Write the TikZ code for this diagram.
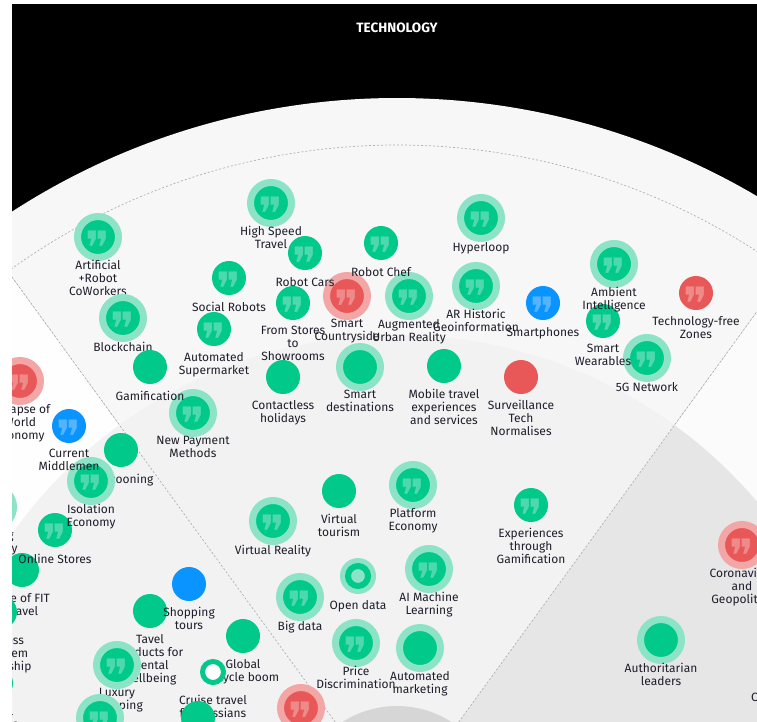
\documentclass[tikz,border=0pt]{standalone}
\usepackage{fontspec}
\setmainfont{Fira Sans}
\newfontfamily\iconfont{DejaVu Sans}
\usetikzlibrary{positioning}
\definecolor{cffffff}{RGB}{255,255,255}
\definecolor{c000000}{RGB}{0,0,0}
\definecolor{cf7f7f7}{RGB}{247,247,247}
\definecolor{cf2f2f2}{RGB}{242,242,242}
\definecolor{cfdfdfd}{RGB}{254,254,254}
\definecolor{cfbfbfb}{RGB}{251,251,251}
\definecolor{ce6e6e6}{RGB}{230,230,230}
\definecolor{cd8d8d8}{RGB}{214,214,214}
\definecolor{cb0b0b0}{RGB}{176,176,176}
\definecolor{c00c98a}{RGB}{0,201,138}
\definecolor{c8ce3c6}{RGB}{140,227,198}
\definecolor{ce95858}{RGB}{233,88,88}
\definecolor{cf2a6a6}{RGB}{242,166,166}
\definecolor{c0a94ff}{RGB}{10,148,255}
\definecolor{c1e1e2c}{RGB}{30,30,44}
\newcommand{\qicon}{\makebox[0pt]{\raisebox{-0.6em}[0pt][0pt]{\char"275E}}}

\begin{document}
\begin{tikzpicture}[y=1pt, x=1pt, yscale=-1, inner sep=0pt, outer sep=0pt,
  dotG/.style={circle, fill=c00c98a, minimum size=34pt, text=white, text opacity=0.3,
    font=\iconfont\fontsize{46}{46}\selectfont},
  haloG/.style={dotG, draw=c8ce3c6, line width=7pt, minimum size=41pt},
  dotR/.style={dotG, fill=ce95858},
  haloR/.style={dotR, draw=cf2a6a6, line width=7pt, minimum size=41pt},
  dotB/.style={dotG, fill=c0a94ff},
  ringG/.style={circle, draw=c00c98a, fill=cffffff, line width=5pt, minimum size=21pt},
  lbl/.style={anchor=north, align=center, text=c1e1e2c, font=\fontsize{12}{13}\selectfont,
    execute at begin node={\rule{0pt}{10pt}}},
  rim/.style={draw=cb0b0b0, line width=0.7pt, dash pattern=on 2pt off 2pt}]
  \useasboundingbox (0,0) rectangle (757,721);
  \clip (12,4) rectangle (757,721);
  \path[fill=c000000] (12,4) rectangle (757,721);
  \begin{scope}[shift={(397,807)}]
    \path[fill=cf7f7f7] (0,0) -- (-126:709) arc[start angle=-126, end angle=-54, radius=709] -- cycle;
    \path[fill=cfdfdfd] (0,0) -- (-198:709) arc[start angle=-198, end angle=-126, radius=709] -- cycle;
    \path[fill=cfbfbfb] (0,0) -- (-54:709) arc[start angle=-54, end angle=18, radius=709] -- cycle;
    \path[fill=cf2f2f2] (0,0) -- (-198:472) arc[start angle=-198, end angle=-54, radius=472] -- cycle;
    \path[fill=ce6e6e6] (0,0) -- (-54:472) arc[start angle=-54, end angle=18, radius=472] -- cycle;
    \path[fill=cd8d8d8] (0,0) circle (101);
    \path[rim] (-126:101) -- (-126:662);
    \path[rim] (-54:101) -- (-54:662);
    \path[rim] (-126:662) arc[start angle=-126, end angle=-54, radius=662];
  \end{scope}
  \path (397,28) node[text=cffffff, font=\bfseries\fontsize{13.5}{15}\selectfont] (title) {TECHNOLOGY};

  \path (98,237) node[haloG] (aiCoworkers) {\qicon};
  \path (98,260) node[lbl] (aiCoworkersText) {Artificial\\+Robot\\CoWorkers};
  \path (271,203) node[haloG] (highSpeed) {\qicon};
  \path (271,226) node[lbl] (highSpeedText) {High Speed\\Travel};
  \path (481,218) node[haloG] (hyperloop) {\qicon};
  \path (481,241) node[lbl] (hyperloopText) {Hyperloop};
  \path (347,296) node[haloR] (smartCountry) {\qicon};
  \path (347,319) node[lbl] (smartCountryText) {Smart\\Countryside};
  \path (409,296) node[haloG] (augmented) {\qicon};
  \path (409,319) node[lbl] (augmentedText) {Augmented\\Urban Reality};
  \path (381,243) node[dotG] (robotChef) {\qicon};
  \path (381,266) node[lbl] (robotChefText) {Robot Chef};
  \path (305,253) node[dotG] (robotCars) {\qicon};
  \path (305,276) node[lbl] (robotCarsText) {Robot Cars};
  \path (229,278) node[dotG] (socialRobots) {\qicon};
  \path (229,301) node[lbl] (socialRobotsText) {Social Robots};
  \path (293,303) node[dotG] (fromStores) {\qicon};
  \path (293,326) node[lbl] (fromStoresText) {From Stores\\to\\Showrooms};
  \path (476,286) node[haloG] (arHistoric) {\qicon};
  \path (476,309) node[lbl] (arHistoricText) {AR Historic\\Geoinformation};
  \path (543,303) node[dotB] (smartphones) {\qicon};
  \path (543,326) node[lbl] (smartphonesText) {Smartphones};
  \path (696,293) node[dotR] (techFree) {\qicon};
  \path (696,316) node[lbl] (techFreeText) {Technology-free\\Zones};
  \path (647,358) node[haloG] (fiveG) {\qicon};
  \path (647,381) node[lbl] (fiveGText) {5G Network};
  \path (603,321) node[dotG] (wearables) {\qicon};
  \path (603,344) node[lbl] (wearablesText) {Smart\\Wearables};
  \path (614,264) node[haloG] (ambient) {\qicon};
  \path (614,287) node[lbl] (ambientText) {Ambient\\Intelligence};
  \path (123,318) node[haloG] (blockchain) {\qicon};
  \path (123,341) node[lbl] (blockchainText) {Blockchain};
  \path (214,329) node[dotG] (autoSuper) {\qicon};
  \path (214,352) node[lbl] (autoSuperText) {Automated\\Supermarket};
  \path (193,413) node[haloG] (newPayment) {\qicon};
  \path (193,436) node[lbl] (newPaymentText) {New Payment\\Methods};
  \path (150,367) node[dotG] (gamification) {};
  \path (150,390) node[lbl] (gamificationText) {Gamification};
  \path (283,377) node[dotG] (contactless) {};
  \path (283,400) node[lbl] (contactlessText) {Contactless\\holidays};
  \path (360,367) node[haloG] (smartDest) {};
  \path (360,390) node[lbl] (smartDestText) {Smart\\destinations};
  \path (444,366) node[dotG] (mobileTravel) {};
  \path (444,389) node[lbl] (mobileTravelText) {Mobile travel\\experiences\\and services};
  \path (521,377) node[dotR] (surveillance) {};
  \path (521,400) node[lbl] (surveillanceText) {Surveillance\\Tech\\Normalises};
  \path (20,381) node[haloR] (collapse) {\qicon};
  \path (20,404) node[lbl] (collapseText) {Collapse of\\World\\Economy};
  \path (121,450) node[dotG] (cocooning) {};
  \path (125,473) node[lbl] (cocooningText) {Cocooning};
  \path (-7,507) node[haloG] (sharing) {\qicon};
  \path (-7,530) node[lbl] (sharingText) {Sharing\\Economy};
  \path (22,570) node[dotG] (riseFit) {};
  \path (22,593) node[lbl] (riseFitText) {Rise of FIT\\Travel};
  \path (55,530) node[dotG] (onlineStores) {\qicon};
  \path (55,553) node[lbl] (onlineStoresText) {Online Stores};
  \path (91,481) node[haloG] (isolation) {\qicon};
  \path (91,504) node[lbl] (isolationText) {Isolation\\Economy};
  \path (69,426) node[dotB] (middlemen) {\qicon};
  \path (69,449) node[lbl] (middlemenText) {Current\\Middlemen};
  \path (0,612) node[dotG] (business) {};
  \path (0,635) node[lbl] (businessText) {Business\\Ecosystem\\Partnership};
  \path (-4,683) node[dotG] (digital) {};
  \path (-4,706) node[lbl] (digitalText) {Digital\\Nomads};
  \path (150,611) node[dotG] (tavel) {};
  \path (150,634) node[lbl] (tavelText) {Tavel\\Products for\\Mental\\wellbeing};
  \path (117,665) node[haloG] (luxury) {\qicon};
  \path (117,688) node[lbl] (luxuryText) {Luxury\\Shopping};
  \path (100,718) node[haloG] (lowHalo) {\qicon};
  \path (189,584) node[dotB] (shoppingTours) {};
  \path (189,607) node[lbl] (shoppingToursText) {Shopping\\tours};
  \path (243,636) node[dotG] (globalBike) {};
  \path (243,659) node[lbl] (globalBikeText) {Global\\bicycle boom};
  \path (213,672) node[ringG] (cruise) {};
  \path (213,695) node[lbl] (cruiseText) {Cruise travel\\for Russians};
  \path (198,718) node[dotG] (lowDot) {};
  \path (273,521) node[haloG] (virtualReality) {\qicon};
  \path (273,544) node[lbl] (virtualRealityText) {Virtual Reality};
  \path (339,491) node[dotG] (virtualTourism) {};
  \path (339,514) node[lbl] (virtualTourismText) {Virtual\\tourism};
  \path (300,597) node[haloG] (bigData) {\qicon};
  \path (300,620) node[lbl] (bigDataText) {Big data};
  \path[fill=c8ce3c6] (358,576) circle (18);
  \path (358,576) node[ringG, fill=c8ce3c6, line width=6pt, minimum size=20pt] (openData) {};
  \path (358,599) node[lbl] (openDataText) {Open data};
  \path (356,643) node[haloG] (priceDisc) {\qicon};
  \path (356,666) node[lbl] (priceDiscText) {Price\\Discrimination};
  \path (301,708) node[haloR] (lowRed) {\qicon};
  \path (413,485) node[haloG] (platform) {\qicon};
  \path (413,508) node[lbl] (platformText) {Platform\\Economy};
  \path (429,569) node[haloG] (aiMachine) {\qicon};
  \path (429,592) node[lbl] (aiMachineText) {AI Machine\\Learning};
  \path (420,648) node[haloG] (autoMarketing) {};
  \path (420,671) node[lbl] (autoMarketingText) {Automated\\marketing};
  \path (531,505) node[dotG] (experiences) {\qicon};
  \path (531,528) node[lbl] (experiencesText) {Experiences\\through\\Gamification};
  \path (742,545) node[haloR] (corona) {\qicon};
  \path (742,568) node[lbl] (coronaText) {Coronavirus\\and\\Geopolitics};
  \path (661,640) node[haloG] (authoritarian) {};
  \path (661,663) node[lbl] (authoritarianText) {Authoritarian\\leaders};
  \path (793,668) node[dotG] (climate) {};
  \path (793,691) node[lbl] (climateText) {Climate Change};
\end{tikzpicture}
\end{document}
